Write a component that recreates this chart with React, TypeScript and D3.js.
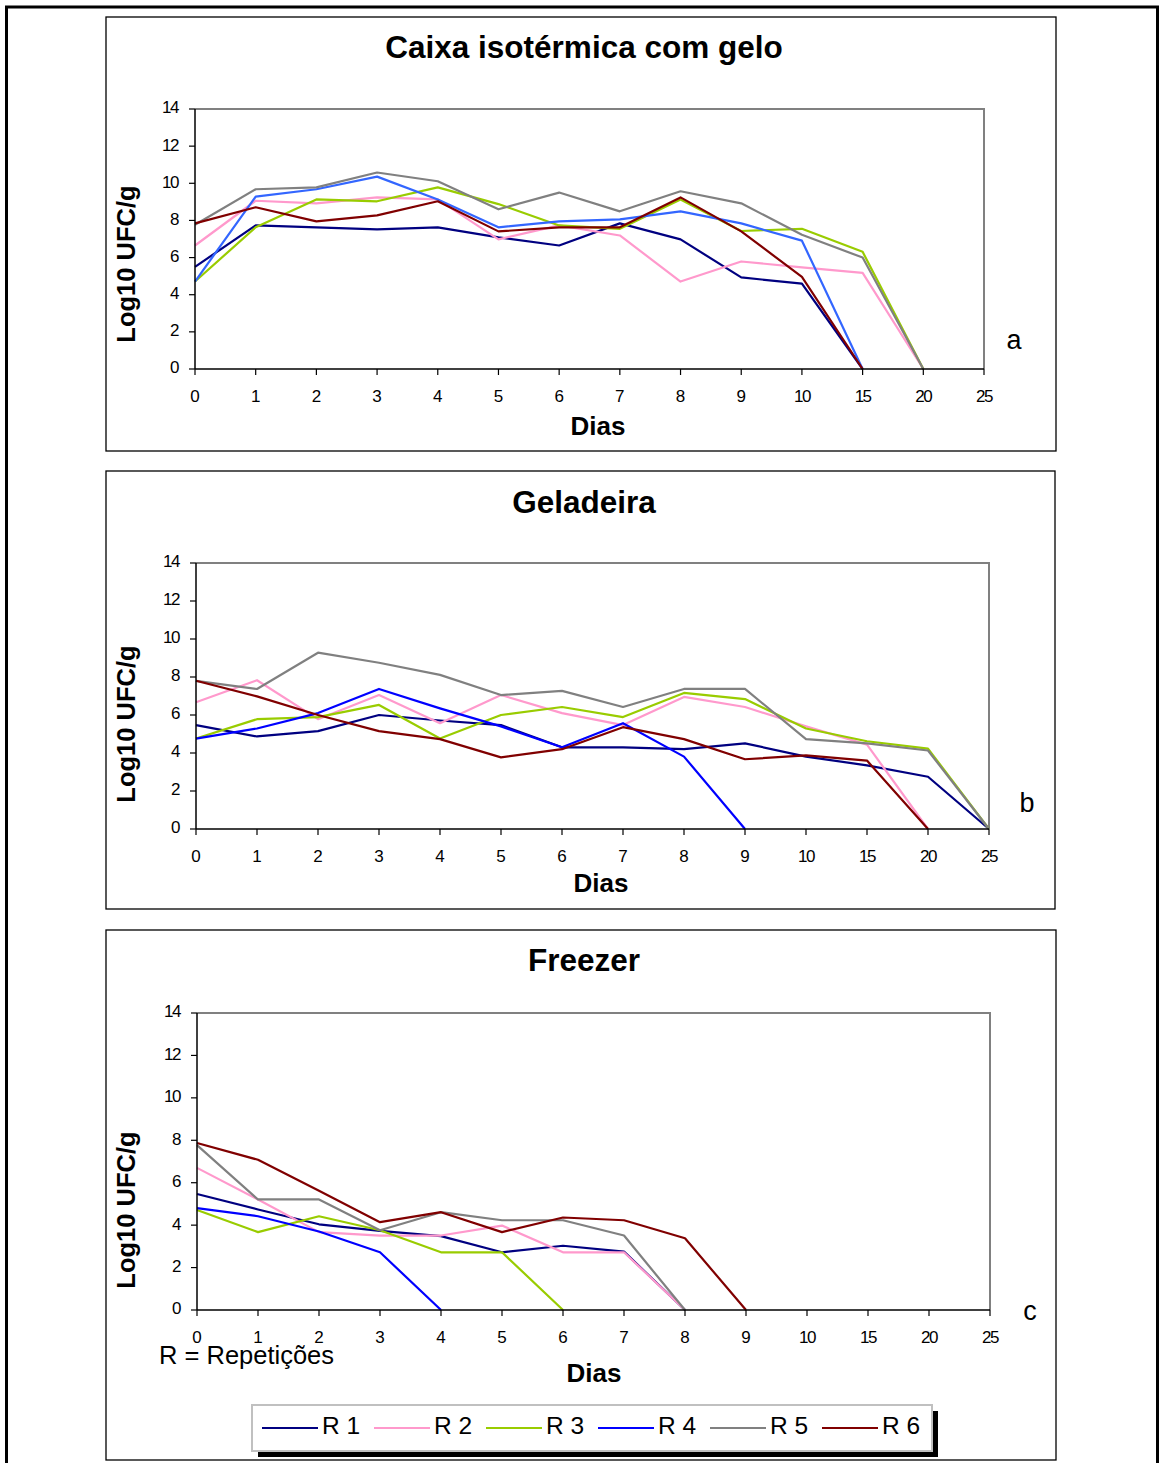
import * as d3 from 'd3';

const days = ['0', '1', '2', '3', '4', '5', '6', '7', '8', '9', '10', '15', '20', '25'];
const yTicks = [0, 2, 4, 6, 8, 10, 12, 14];
const seriesNames = ['R 1', 'R 2', 'R 3', 'R 4', 'R 5', 'R 6'];

// Caixa isotérmica com gelo
const caixaR1 = [5.5, 7.73, 7.63, 7.52, 7.63, 7.09, 6.65, 7.84, 6.98, 4.93, 4.6, 0, null, null];
const caixaR2 = [6.65, 9.06, 8.92, 9.24, 9.13, 6.98, 7.73, 7.19, 4.71, 5.79, 5.47, 5.18, 0, null];
const caixaR3 = [4.71, 7.63, 9.13, 9.03, 9.78, 8.88, 7.73, 7.55, 9.13, 7.43, 7.55, 6.31, 0, null];
const caixaR4 = [4.71, 9.28, 9.68, 10.36, 9.13, 7.63, 7.95, 8.06, 8.49, 7.84, 6.91, 0, null, null];
const caixaR5 = [7.77, 9.68, 9.78, 10.58, 10.11, 8.6, 9.5, 8.49, 9.57, 8.92, 7.23, 6.0, 0, null];
const caixaR6 = [7.84, 8.71, 7.95, 8.27, 9.03, 7.41, 7.63, 7.63, 9.24, 7.41, 4.96, 0, null, null];

// Geladeira
const geladeiraR1 = [5.47, 4.87, 5.15, 6.0, 5.71, 5.47, 4.3, 4.3, 4.2, 4.51, 3.81, 3.35, 2.75, 0];
const geladeiraR2 = [6.67, 7.83, 5.78, 7.05, 5.57, 7.05, 6.1, 5.47, 6.95, 6.42, 5.4, 4.44, 0, null];
const geladeiraR3 = [4.76, 5.78, 5.89, 6.53, 4.76, 6.0, 6.42, 5.89, 7.16, 6.84, 5.29, 4.62, 4.23, 0];
const geladeiraR4 = [4.76, 5.29, 6.1, 7.37, 6.35, 5.4, 4.3, 5.57, 3.81, 0, null, null, null, null];
const geladeiraR5 = [7.8, 7.37, 9.28, 8.75, 8.11, 7.05, 7.27, 6.42, 7.37, 7.37, 4.73, 4.51, 4.13, 0];
const geladeiraR6 = [7.8, 6.98, 6.0, 5.15, 4.73, 3.77, 4.2, 5.36, 4.73, 3.67, 3.88, 3.6, 0, null];

// Freezer
const freezerR1 = [5.47, 4.74, 4.04, 3.73, 3.48, 2.72, 3.03, 2.75, 0, null, null, null, null, null];
const freezerR2 = [6.7, 5.21, 3.67, 3.51, 3.51, 3.98, 2.72, 2.72, 0, null, null, null, null, null];
const freezerR3 = [4.71, 3.67, 4.42, 3.76, 2.72, 2.72, 0, null, null, null, null, null, null, null];
const freezerR4 = [4.8, 4.42, 3.7, 2.72, 0, null, null, null, null, null, null, null, null, null];
const freezerR5 = [7.77, 5.21, 5.21, 3.76, 4.61, 4.23, 4.23, 3.51, 0, null, null, null, null, null];
const freezerR6 = [7.87, 7.08, 5.62, 4.14, 4.61, 3.67, 4.36, 4.23, 3.38, 0, null, null, null, null];

const FONT = 'Arial, "Liberation Sans", sans-serif';
const legendColors = ['#000080', '#FF99CC', '#99CC00', '#0000FF', '#808080', '#800000'];

const panels = [
  {
    title: 'Caixa isotérmica com gelo', letter: 'a',
    series: [caixaR1, caixaR2, caixaR3, caixaR4, caixaR5, caixaR6],
    colors: ['#000080', '#FF99CC', '#99CC00', '#3366FF', '#808080', '#800000'],
    box: { x: 106, y: 17, w: 950, h: 434 },
    plot: { x0: 195, x1: 984, y0: 109, y1: 369 },
    titleY: 50, diasX: 598, diasY: 428, ylabY: 264, letterPos: [1014, 342],
  },
  {
    title: 'Geladeira', letter: 'b',
    series: [geladeiraR1, geladeiraR2, geladeiraR3, geladeiraR4, geladeiraR5, geladeiraR6],
    colors: legendColors,
    box: { x: 106, y: 471, w: 949, h: 438 },
    plot: { x0: 196, x1: 989, y0: 563, y1: 829 },
    titleY: 505, diasX: 601, diasY: 885, ylabY: 724, letterPos: [1027, 805],
  },
  {
    title: 'Freezer', letter: 'c',
    series: [freezerR1, freezerR2, freezerR3, freezerR4, freezerR5, freezerR6],
    colors: legendColors,
    box: { x: 106, y: 930, w: 950, h: 530 },
    plot: { x0: 197, x1: 990, y0: 1013, y1: 1310 },
    titleY: 963, diasX: 594, diasY: 1375, ylabY: 1210, letterPos: [1030, 1313],
  },
];

function Panel({ p }: { p: any }) {
  const x = d3.scalePoint<string>().domain(days).range([p.plot.x0, p.plot.x1]).padding(0);
  const y = d3.scaleLinear().domain([0, 14]).range([p.plot.y1, p.plot.y0]);
  const line = d3
    .line<number | null>()
    .defined((d) => d !== null)
    .x((_, i) => x(days[i]) as number)
    .y((d) => y(d as number));

  return (
    <g>
      <rect x={p.box.x} y={p.box.y} width={p.box.w} height={p.box.h} fill="#fff" stroke="#000" strokeWidth={1.3} />
      <text x={584} y={p.titleY} textAnchor="middle" dominantBaseline="middle" fontFamily={FONT} fontWeight="bold" fontSize={31.5}>
        {p.title}
      </text>
      {/* frame: top/right grey */}
      <path
        d={`M${p.plot.x0},${p.plot.y0}H${p.plot.x1}V${p.plot.y1}`}
        fill="none" stroke="#808080" strokeWidth={2}
      />
      {p.series.map((s: (number | null)[], i: number) => (
        <path key={i} d={line(s) || ''} fill="none" stroke={p.colors[i]} strokeWidth={2.2} strokeLinejoin="round" />
      ))}
      {/* y axis */}
      <line x1={p.plot.x0} x2={p.plot.x0} y1={p.plot.y0} y2={p.plot.y1} stroke="#000" strokeWidth={1.5} />
      {yTicks.map((t) => (
        <g key={t}>
          <line x1={p.plot.x0 - 6} x2={p.plot.x0} y1={y(t)} y2={y(t)} stroke="#000" strokeWidth={1.2} />
          <text x={p.plot.x0 - 17} y={y(t)} textAnchor="end" dominantBaseline="middle" fontFamily={FONT} fontSize={17} letterSpacing={-1.5}>
            {t}
          </text>
        </g>
      ))}
      {/* x axis */}
      <line x1={p.plot.x0} x2={p.plot.x1} y1={p.plot.y1} y2={p.plot.y1} stroke="#000" strokeWidth={1.5} />
      {days.map((d) => (
        <g key={d}>
          <line x1={x(d)} x2={x(d)} y1={p.plot.y1} y2={p.plot.y1 + 6} stroke="#000" strokeWidth={1.2} />
          <text x={x(d)} y={p.plot.y1 + 29} textAnchor="middle" dominantBaseline="middle" fontFamily={FONT} fontSize={17} letterSpacing={d.length > 1 ? -1.5 : 0}>
            {d}
          </text>
        </g>
      ))}
      <text x={p.diasX} y={p.diasY} textAnchor="middle" dominantBaseline="middle" fontFamily={FONT} fontWeight="bold" fontSize={26}>
        Dias
      </text>
      <text
        transform={`translate(128,${p.ylabY}) rotate(-90)`}
        textAnchor="middle" dominantBaseline="middle" fontFamily={FONT} fontWeight="bold" fontSize={25.5}
      >
        Log10 UFC/g
      </text>
      <text x={p.letterPos[0]} y={p.letterPos[1]} textAnchor="middle" dominantBaseline="middle" fontFamily={FONT} fontSize={27}>
        {p.letter}
      </text>
    </g>
  );
}

export default function App() {
  const legendX = d3.scaleBand<string>().domain(seriesNames).range([262, 934]);
  return (
    <svg width={1162} height={1463} style={{ position: 'absolute', left: 0, top: 0, background: '#fff' }}>
      <rect width={1162} height={1463} fill="#fff" />
      <path d="M6.5,1463V7H1157.5V1463" fill="none" stroke="#000" strokeWidth={3} />
      {panels.map((p, i) => (
        <Panel key={i} p={p} />
      ))}
      <text x={159} y={1357} dominantBaseline="middle" fontFamily={FONT} fontSize={25.5}>
        R = Repetições
      </text>
      {/* legend */}
      <rect x={258} y={1411} width={680} height={46} fill="#000" />
      <rect x={252} y={1405} width={680} height={46} fill="#fff" stroke="#c0c0c0" strokeWidth={2} />
      {seriesNames.map((n, i) => (
        <g key={n}>
          <line x1={legendX(n)} x2={(legendX(n) as number) + 56} y1={1428} y2={1428} stroke={legendColors[i]} strokeWidth={2} />
          <text x={(legendX(n) as number) + 60} y={1428} dominantBaseline="middle" fontFamily={FONT} fontSize={24.5}>
            {n}
          </text>
        </g>
      ))}
    </svg>
  );
}
